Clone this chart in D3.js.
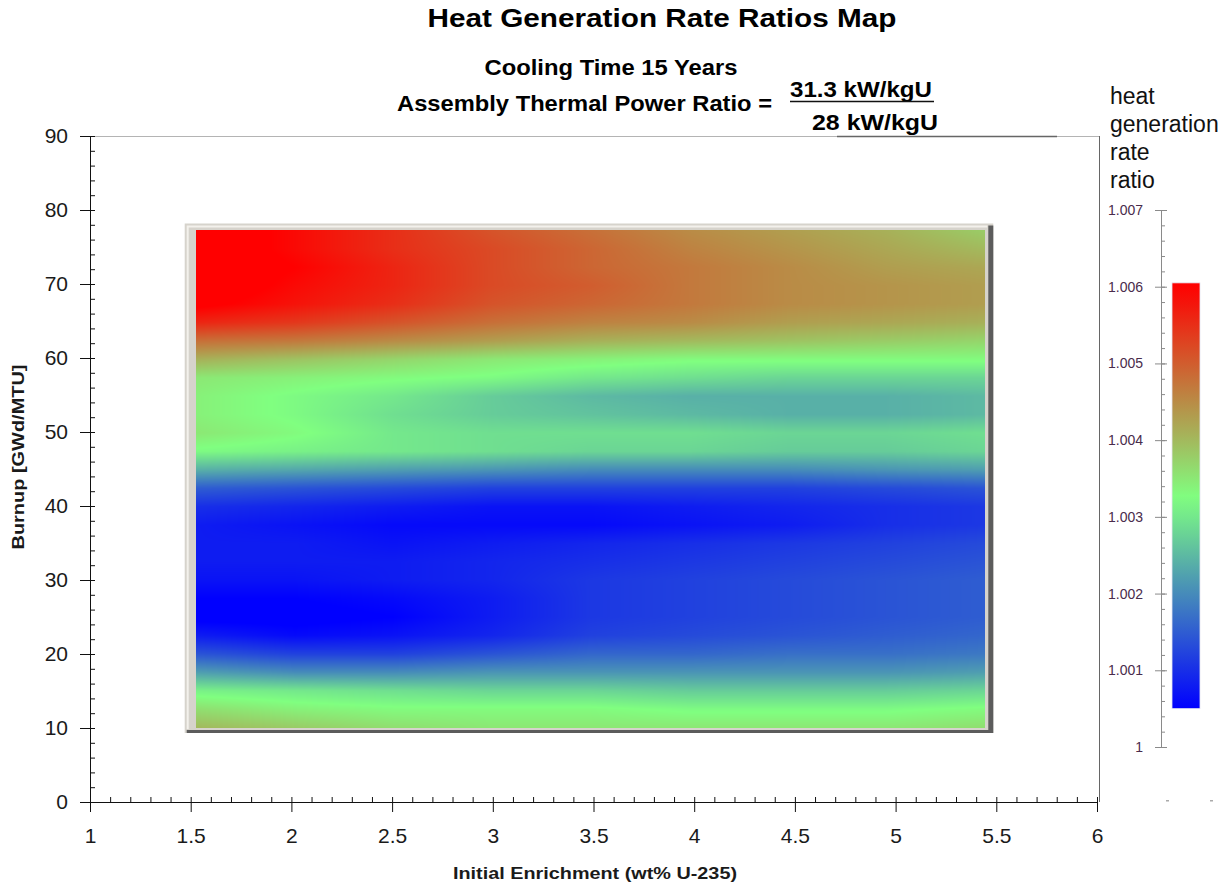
<!DOCTYPE html>
<html>
<head>
<meta charset="utf-8">
<script src="https://cdn.jsdelivr.net/npm/d3@7"></script>
<style>
  body { margin: 0; background: #fff; }
  svg { display: block; font-family: "Liberation Sans", Arial, sans-serif; }
</style>
</head>
<body>
<div id="chart"></div>
<script>
// Heat Generation Rate Ratios Map

// enrichment columns (wt% U-235)
const enrichment = [1.5, 2, 2.5, 3, 3.5, 4, 4.5, 5, 5.5];
// burnup rows (GWd/MTU), bottom to top
const burnup = [10, 12.5, 15, 17.5, 20, 22.5, 25, 27.5, 30, 32.5, 35, 37.5, 40, 42.5,
                45, 47.5, 50, 52.5, 55, 57.5, 60, 62.5, 65, 67.5, 70, 72.5, 75, 77.5];
// heat generation rate ratio, one row per burnup, one value per enrichment
const ratios = [
  [1.0040, 1.0038, 1.0036, 1.0035, 1.0035, 1.0035, 1.0035, 1.0035, 1.0036], // 10
  [1.0036, 1.0034, 1.0033, 1.0033, 1.0033, 1.0032, 1.0032, 1.0032, 1.0033], // 12.5
  [1.0031, 1.0030, 1.0029, 1.0028, 1.0028, 1.0027, 1.0027, 1.0027, 1.0028], // 15
  [1.0022, 1.0020, 1.0020, 1.0021, 1.0021, 1.0021, 1.0021, 1.0021, 1.0022], // 17.5
  [1.0014, 1.0012, 1.0012, 1.0014, 1.0016, 1.0016, 1.0017, 1.0017, 1.0018], // 20
  [1.0008, 1.0006, 1.0007, 1.0009, 1.0012, 1.0013, 1.0014, 1.0015, 1.0016], // 22.5
  [1.0004, 1.0004, 1.0005, 1.0008, 1.0011, 1.0012, 1.0013, 1.0014, 1.0015], // 25
  [1.0005, 1.0005, 1.0006, 1.0008, 1.0011, 1.0012, 1.0013, 1.0014, 1.0015], // 27.5
  [1.0007, 1.0007, 1.0008, 1.0009, 1.0011, 1.0012, 1.0013, 1.0014, 1.0015], // 30
  [1.0008, 1.0008, 1.0008, 1.0009, 1.0010, 1.0011, 1.0012, 1.0013, 1.0014], // 32.5
  [1.0008, 1.0008, 1.0007, 1.0008, 1.0009, 1.0010, 1.0011, 1.0012, 1.0013], // 35
  [1.0008, 1.0007, 1.0006, 1.0006, 1.0006, 1.0007, 1.0008, 1.0010, 1.0011], // 37.5
  [1.0010, 1.0009, 1.0008, 1.0007, 1.0007, 1.0008, 1.0009, 1.0010, 1.0011], // 40
  [1.0015, 1.0014, 1.0013, 1.0012, 1.0012, 1.0012, 1.0012, 1.0013, 1.0014], // 42.5
  [1.0024, 1.0023, 1.0022, 1.0021, 1.0020, 1.0020, 1.0020, 1.0021, 1.0022], // 45
  [1.0032, 1.0031, 1.0030, 1.0029, 1.0028, 1.0028, 1.0027, 1.0027, 1.0028], // 47.5
  [1.0035, 1.0033, 1.0030, 1.0029, 1.0029, 1.0029, 1.0028, 1.0028, 1.0029], // 50
  [1.0034, 1.0032, 1.0029, 1.0027, 1.0026, 1.0025, 1.0024, 1.0024, 1.0025], // 52.5
  [1.0034, 1.0032, 1.0030, 1.0027, 1.0025, 1.0024, 1.0024, 1.0024, 1.0025], // 55
  [1.0035, 1.0034, 1.0033, 1.0032, 1.0030, 1.0029, 1.0028, 1.0028, 1.0028], // 57.5
  [1.0041, 1.0039, 1.0037, 1.0035, 1.0034, 1.0033, 1.0033, 1.0033, 1.0033], // 60
  [1.0048, 1.0047, 1.0045, 1.0043, 1.0041, 1.0040, 1.0039, 1.0038, 1.0037], // 62.5
  [1.0056, 1.0054, 1.0051, 1.0048, 1.0046, 1.0045, 1.0043, 1.0042, 1.0041], // 65
  [1.0061, 1.0058, 1.0055, 1.0051, 1.0049, 1.0047, 1.0045, 1.0044, 1.0043], // 67.5
  [1.0063, 1.0059, 1.0056, 1.0052, 1.0050, 1.0047, 1.0045, 1.0044, 1.0043], // 70
  [1.0063, 1.0060, 1.0056, 1.0052, 1.0049, 1.0047, 1.0045, 1.0043, 1.0042], // 72.5
  [1.0063, 1.0059, 1.0055, 1.0052, 1.0049, 1.0046, 1.0044, 1.0042, 1.0040], // 75
  [1.0063, 1.0059, 1.0055, 1.0051, 1.0048, 1.0045, 1.0043, 1.0041, 1.0038]  // 77.5
];

const xTicks = [1, 1.5, 2, 2.5, 3, 3.5, 4, 4.5, 5, 5.5, 6];
const yTicks = [0, 10, 20, 30, 40, 50, 60, 70, 80, 90];
const legendTicks = [1, 1.001, 1.002, 1.003, 1.004, 1.005, 1.006, 1.007];
const legendStops = [1.0005, 1.00325, 1.006];
const legendColors = ['#0000ff', '#80ff80', '#ff0000'];
const legendExtent = [1.0005, 1.00605];
const legendTitle = ['heat', 'generation', 'rate', 'ratio'];

const width = 1225, height = 886;

const svg = d3.select('#chart').append('svg')
    .attr('width', width)
    .attr('height', height);

const x = d3.scaleLinear().domain([1, 6]).range([90, 1097]);
const y = d3.scaleLinear().domain([0, 90]).range([802, 136]);
const color = d3.scaleLinear().domain(legendStops).range(legendColors).clamp(true);

// frame (top + right)
svg.append('line')
    .attr('x1', x(1)).attr('x2', 1099).attr('y1', y(90) + 0.5).attr('y2', y(90) + 0.5)
    .style('stroke', '#b4b4b4');
svg.append('line')
    .attr('x1', 837).attr('x2', 1057).attr('y1', y(90) + 0.5).attr('y2', y(90) + 0.5)
    .style('stroke', '#666').style('stroke-width', 1.5);
svg.append('line')
    .attr('x1', 1099.5).attr('x2', 1099.5).attr('y1', y(90)).attr('y2', y(0))
    .style('stroke', '#666');

// heat map block with bevelled border
const ox0 = x(1.5) - 6, ox1 = x(5.5) - 3, oy0 = y(77.5) - 5, oy1 = y(10) + 5;
svg.append('rect')
    .attr('x', ox0).attr('y', oy0).attr('width', ox1 - ox0).attr('height', oy1 - oy0)
    .style('fill', '#d6d3cc');
svg.append('path')
    .attr('d', `M${ox1 - 5},${oy0 + 2}L${ox1},${oy0 + 2}L${ox1},${oy1}L${ox0 + 2},${oy1}L${ox0 + 2},${oy1 - 3}L${ox1 - 5},${oy1 - 3}Z`)
    .style('fill', '#5c5c5c');
svg.append('path')
    .attr('d', `M${ox0 + 3},${oy1 - 4}L${ox0 + 3},${oy0 + 3}L${ox1 - 6},${oy0 + 3}`)
    .style('fill', 'none').style('stroke', '#f3f1ec').style('stroke-width', 2);

const ix0 = Math.round(x(1.5) + 5), ix1 = Math.round(x(5.5) - 11);
const iy0 = Math.round(y(77.5) + 2), iy1 = Math.round(y(10));
const w = ix1 - ix0, h = iy1 - iy0;
const pxE = d3.scaleLinear().domain([0, w - 1]).range([enrichment[0], enrichment[enrichment.length - 1]]);
const pyB = d3.scaleLinear().domain([0, h - 1]).range([burnup[burnup.length - 1], burnup[0]]);
const eIdx = d3.scaleLinear().domain(enrichment).range(d3.range(enrichment.length)).clamp(true);
const bIdx = d3.scaleLinear().domain(burnup).range(d3.range(burnup.length)).clamp(true);

function valueAt(e, b) {
    const fi = eIdx(e), fj = bIdx(b);
    const i0 = Math.min(Math.floor(fi), enrichment.length - 2);
    const j0 = Math.min(Math.floor(fj), burnup.length - 2);
    const tx = fi - i0, ty = fj - j0;
    const v00 = ratios[j0][i0], v10 = ratios[j0][i0 + 1];
    const v01 = ratios[j0 + 1][i0], v11 = ratios[j0 + 1][i0 + 1];
    return (v00 * (1 - tx) + v10 * tx) * (1 - ty) + (v01 * (1 - tx) + v11 * tx) * ty;
}

const canvas = document.createElement('canvas');
canvas.width = w; canvas.height = h;
const ctx = canvas.getContext('2d');
const img = ctx.createImageData(w, h);
for (let py = 0; py < h; py++) {
    const b = pyB(py);
    for (let px = 0; px < w; px++) {
        const c = d3.rgb(color(valueAt(pxE(px), b)));
        const k = (py * w + px) * 4;
        img.data[k] = c.r; img.data[k + 1] = c.g; img.data[k + 2] = c.b; img.data[k + 3] = 255;
    }
}
ctx.putImageData(img, 0, 0);
svg.append('image')
    .attr('x', ix0).attr('y', iy0).attr('width', w).attr('height', h)
    .attr('preserveAspectRatio', 'none')
    .attr('href', canvas.toDataURL());

// y axis
const yAxis = svg.append('g')
    .attr('transform', `translate(${x(1)},0)`)
    .call(d3.axisLeft(y).tickValues(yTicks).tickSize(10).tickSizeOuter(0).tickPadding(12));
svg.append('g')
    .attr('transform', `translate(${x(1)},0)`)
    .call(d3.axisRight(y).tickValues(d3.range(0, 91, 2)).tickSize(5).tickSizeOuter(0).tickFormat(''));

// x axis
const xAxis = svg.append('g')
    .attr('transform', `translate(0,${y(0)})`)
    .call(d3.axisBottom(x).tickValues(xTicks).tickSize(10).tickSizeOuter(0).tickPadding(16)
        .tickFormat(d3.format('~g')));
svg.append('g')
    .attr('transform', `translate(0,${y(0)})`)
    .call(d3.axisTop(x).tickValues(d3.range(10, 61).map(d => d / 10)).tickSize(5).tickSizeOuter(0).tickFormat(''));

svg.selectAll('.tick line, .domain').style('stroke', '#111');
yAxis.selectAll('text').style('font-size', '21px').style('fill', '#1a1a1a');
xAxis.selectAll('text').style('font-size', '21px').style('fill', '#1a1a1a');

// axis titles
svg.append('text')
    .attr('x', 595).attr('y', 879)
    .attr('text-anchor', 'middle')
    .attr('textLength', 284).attr('lengthAdjust', 'spacingAndGlyphs')
    .style('font-size', '17px').style('font-weight', 'bold').style('fill', '#1a1a1a')
    .text('Initial Enrichment (wt% U-235)');
svg.append('text')
    .attr('transform', 'translate(24,457) rotate(-90)')
    .attr('text-anchor', 'middle')
    .attr('textLength', 185).attr('lengthAdjust', 'spacingAndGlyphs')
    .style('font-size', '17px').style('font-weight', 'bold').style('fill', '#1a1a1a')
    .text('Burnup [GWd/MTU]');

// titles
svg.append('text')
    .attr('x', 662).attr('y', 27)
    .attr('text-anchor', 'middle')
    .attr('textLength', 469).attr('lengthAdjust', 'spacingAndGlyphs')
    .style('font-size', '26px').style('font-weight', 'bold')
    .text('Heat Generation Rate Ratios Map');
svg.append('text')
    .attr('x', 611).attr('y', 75)
    .attr('text-anchor', 'middle')
    .attr('textLength', 253).attr('lengthAdjust', 'spacingAndGlyphs')
    .style('font-size', '22px').style('font-weight', 'bold')
    .text('Cooling Time 15 Years');
svg.append('text')
    .attr('x', 397).attr('y', 111)
    .attr('textLength', 375).attr('lengthAdjust', 'spacingAndGlyphs')
    .style('font-size', '22px').style('font-weight', 'bold')
    .text('Assembly Thermal Power  Ratio =');
svg.append('text')
    .attr('x', 790).attr('y', 97)
    .attr('textLength', 142).attr('lengthAdjust', 'spacingAndGlyphs')
    .style('font-size', '22px').style('font-weight', 'bold')
    .text('31.3 kW/kgU');
svg.append('line')
    .attr('x1', 790).attr('x2', 934).attr('y1', 101.5).attr('y2', 101.5)
    .style('stroke', '#111').style('stroke-width', 1.5);
svg.append('text')
    .attr('x', 812).attr('y', 130)
    .attr('textLength', 126).attr('lengthAdjust', 'spacingAndGlyphs')
    .style('font-size', '22px').style('font-weight', 'bold')
    .text('28 kW/kgU');

// colour legend
const cy = d3.scaleLinear().domain([1, 1.007]).range([747, 210]);
const grad = svg.append('defs').append('linearGradient')
    .attr('id', 'legendGrad')
    .attr('x1', 0).attr('x2', 0).attr('y1', 1).attr('y2', 0);
d3.range(0, 1.0001, 0.05).forEach(t => {
    const v = legendExtent[0] + t * (legendExtent[1] - legendExtent[0]);
    grad.append('stop').attr('offset', t).attr('stop-color', color(v));
});
svg.append('rect')
    .attr('x', 1172).attr('width', 28)
    .attr('y', cy(legendExtent[1])).attr('height', cy(legendExtent[0]) - cy(legendExtent[1]))
    .style('fill', 'url(#legendGrad)')
    .style('stroke', '#e4e4f0').style('stroke-width', 0.8);

const legendAxis = svg.append('g')
    .attr('class', 'legend-axis')
    .attr('transform', 'translate(1161,0)')
    .call(d3.axisLeft(cy).tickValues(legendTicks).tickSize(6).tickSizeOuter(0).tickPadding(12)
        .tickFormat(d => d === 1 ? '1' : d3.format('.3f')(d)));
svg.append('g')
    .attr('class', 'legend-axis')
    .attr('transform', 'translate(1161,0)')
    .call(d3.axisRight(cy).tickValues(d3.range(0, 36).map(i => 1 + i * 0.0002)).tickSize(4).tickSizeOuter(0).tickFormat(''));
svg.append('g')
    .attr('class', 'legend-axis')
    .attr('transform', 'translate(1161,0)')
    .call(d3.axisRight(cy).tickValues(legendTicks).tickSize(6).tickSizeOuter(0).tickFormat(''));
svg.selectAll('.legend-axis').selectAll('.tick line, .domain').style('stroke', '#8a8a8a');
legendAxis.selectAll('text').style('font-size', '14px').style('fill', '#4a2c4c');

svg.append('g').selectAll('text')
    .data(legendTitle)
    .enter().append('text')
    .attr('x', 1110)
    .attr('y', (d, i) => 104 + i * 28)
    .style('font-size', '23px')
    .style('fill', '#111')
    .text(d => d);

// tiny marks under the legend
svg.append('g').selectAll('rect')
    .data([1166, 1210])
    .enter().append('rect')
    .attr('x', d => d).attr('y', 800).attr('width', 3).attr('height', 1.5)
    .style('fill', '#aaa');
</script>
</body>
</html>
